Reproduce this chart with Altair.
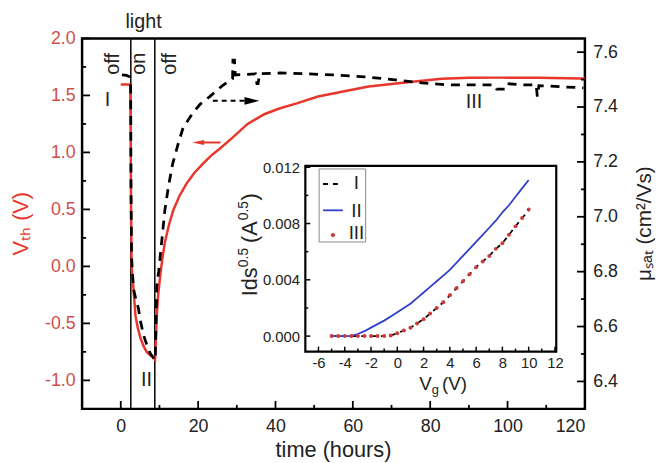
import altair as alt
import pandas as pd

# ---------------- data ----------------
# main panel: threshold voltage (left axis)
time_vth = [0, 2.1, 2.45, 2.55, 2.65, 2.8, 3.3, 3.8, 4.4, 5.1, 5.9, 6.7, 7.6, 8.5, 8.85,
            9.0, 9.3, 9.7, 10.2, 10.8, 11.4, 12.5, 13.6, 15.2, 17.0, 19.0, 21.2, 23.3,
            25.5, 28.9, 32.8, 37.1, 41.0, 45.5, 51.0, 57.5, 64.1, 70.0, 75.4, 83.0,
            90.0, 98.4, 108.0, 118.8, 120.0]
vth = [1.595, 1.595, 1.59, 1.2, 0.58, 0.0, -0.2, -0.43, -0.54, -0.63, -0.70, -0.75, -0.78,
       -0.80, -0.82, -0.72, -0.43, -0.24, -0.08, 0.08, 0.21, 0.37, 0.495, 0.62, 0.726,
       0.82, 0.90, 0.97, 1.03, 1.13, 1.25, 1.335, 1.385, 1.43, 1.49, 1.535, 1.578, 1.60,
       1.62, 1.647, 1.655, 1.656, 1.655, 1.648, 1.648]
# main panel: saturation mobility (right axis)
time_mu = [0.3, 1.5, 2.3, 2.55, 2.65, 2.8, 3.3, 3.9, 4.6, 5.1, 5.9, 6.7, 7.6, 8.5, 8.9,
           9.1, 9.3, 9.8, 10.2, 10.8, 11.4, 12.3, 13.4, 14.8, 16.1, 18.7, 20.5, 23.0,
           26.3, 28.9, 29.0, 29.4, 29.6, 34.8, 35.2, 35.5, 35.9, 41.2, 48.0, 54.9, 63.0,
           71.0, 77.9, 83.8, 89.7, 96.6, 97.2, 99.5, 100.0, 103.5, 107.4, 107.7, 108.1,
           113.6, 119.6]
mu = [7.517, 7.515, 7.51, 7.49, 7.1, 6.85, 6.736, 6.70, 6.664, 6.62, 6.568, 6.535, 6.502,
      6.485, 6.477, 6.6, 6.748, 6.80, 6.856, 6.94, 7.024, 7.108, 7.192, 7.264, 7.324,
      7.38, 7.41, 7.438, 7.478, 7.503, 7.571, 7.571, 7.517, 7.521, 7.485, 7.485, 7.521,
      7.524, 7.521, 7.517, 7.51, 7.499, 7.488, 7.481, 7.481, 7.481, 7.465, 7.465, 7.485,
      7.481, 7.481, 7.438, 7.478, 7.474, 7.47]
light_switch = [2.6, 8.8]

# inset: transfer curves
vg = [-5.0, -4.5, -4.0, -3.5, -3.0, -2.5, -2.0, -1.5, -1.0, -0.5, 0.0, 0.5, 1.0, 1.5,
      2.0, 2.5, 3.0, 3.5, 4.0, 4.5, 5.0, 5.5, 6.0, 6.5, 7.0, 7.5, 8.0, 8.5, 9.0, 9.5, 10.0]
ids_I = [0.0, 0.0, 0.0, 0.0, 0.0, 0.0, 0.0, 0.0, 0.00001, 0.00005, 0.0002, 0.0004,
         0.0006, 0.0009, 0.0012, 0.0016, 0.0020, 0.0024, 0.0029, 0.0034, 0.0039, 0.0044,
         0.0049, 0.0053, 0.0057, 0.0062, 0.0066, 0.0072, 0.0078, 0.0084, 0.0089]
ids_II = [0.0, 0.0, 0.0, 0.00002, 0.00015, 0.00035, 0.0006, 0.00085, 0.0011, 0.0014,
          0.0017, 0.0020, 0.0023, 0.0027, 0.0031, 0.0035, 0.0039, 0.0043, 0.0047, 0.0052,
          0.0057, 0.0062, 0.0067, 0.0072, 0.0077, 0.0082, 0.0088, 0.0093, 0.0099, 0.0105,
          0.0111]
ids_III = [0.0, 0.0, 0.0, 0.0, 0.0, 0.0, 0.0, 0.0, 0.0, 0.00004, 0.0002, 0.0004, 0.0006,
           0.0009, 0.0012, 0.0016, 0.0020, 0.0024, 0.0029, 0.0034, 0.0039, 0.0044, 0.0049,
           0.0053, 0.0057, 0.0062, 0.0066, 0.0072, 0.0078, 0.0084, 0.0090]

# tick values
vth_major = [-1.0, -0.5, 0.0, 0.5, 1.0, 1.5, 2.0]
vth_minor = [-0.75, -0.25, 0.25, 0.75, 1.25, 1.75]
mu_major = [6.4, 6.6, 6.8, 7.0, 7.2, 7.4, 7.6]
mu_minor = [6.5, 6.7, 6.9, 7.1, 7.3, 7.5]
time_major = [0, 20, 40, 60, 80, 100, 120]
time_minor = [10, 30, 50, 70, 90, 110]
vg_major = [-6, -4, -2, 0, 2, 4, 6, 8, 10, 12]
vg_minor = [-5, -3, -1, 1, 3, 5, 7, 9, 11]
ids_major = [0.0, 0.004, 0.008, 0.012]
ids_minor = [0.002, 0.006, 0.010]

# annotations: (x, y, label)
main_plain_text = [(5.9, 2.089, "light"), (-3.42, 1.405, "I"), (6.67, -1.047, "II"),
                   (91.3, 1.387, "III")]
main_rot_text = [(-1.89, 1.682, "off"), (4.62, 1.682, "on"), (12.67, 1.682, "off")]
legend_labels = [(-3.11, 0.01048, "I"), (-3.11, 0.00844, "II"), (-3.11, 0.0069, "III")]
vg_title_anchor = [(1.68, -0.00384)]
ids_title_anchor = [(-10.68, 0.00283)]

# ---------------- style ----------------
FONT = "Liberation Sans"
RED = "#e8362d"
RED_LBL = "#cf4f4b"
BLUE = "#2f3fc8"
DOT = "#cc3b3b"
INK = "#222222"

W, H = 509, 375
X_MAIN = alt.Scale(domain=[-10, 120], nice=False, zero=False)
Y_VTH = alt.Scale(domain=[-1.25, 2.0], nice=False, zero=False)
Y_MU = alt.Scale(domain=[6.3, 7.65], nice=False, zero=False)
X_IN = alt.Scale(domain=[-7, 12.1], range=[226, 480], nice=False, zero=False)
Y_IN = alt.Scale(domain=[-0.0011, 0.0121], range=[317, 129], nice=False, zero=False)

MINUS = "replace(datum.label, '\u2212', '-')"

# ---- axes (the same object is given to every layer that shares a scale) ----
AX_TIME = alt.Axis(orient="bottom", values=time_major, format="d", labelFontSize=18,
                   labelPadding=9, labelColor=INK, title="time (hours)", titleFontSize=22,
                   titleFontWeight="normal", titleColor=INK, titleX=254, titleY=48,
                   titleBaseline="alphabetic", titleAlign="center")
AX_VTH = alt.Axis(orient="left", values=vth_major, format=".1f", labelExpr=MINUS,
                  labelFontSize=18, labelPadding=7, labelColor=RED_LBL,
                  title="V\u209c\u2095 (V)", titleColor=RED, titleFontSize=22,
                  titleFontWeight="normal", titleAngle=270, titleX=-62, titleY=187,
                  titleAlign="center", titleBaseline="middle")
AX_MU = alt.Axis(orient="right", values=mu_major, format=".1f", labelFontSize=18,
                 labelPadding=8, labelColor=INK,
                 title="\u03bc\u209b\u2090\u209c (cm\u00b2/Vs)",
                 titleFontSize=21, titleFontWeight="normal", titleColor=INK,
                 titleAngle=270, titleX=60, titleY=187, titleAlign="center",
                 titleBaseline="middle")
AX_VG = alt.Axis(orient="bottom", offset=-58, values=vg_major, format="d",
                 labelExpr=MINUS, labelFontSize=15, labelPadding=4, labelColor=INK,
                 title="")
AX_IDS = alt.Axis(orient="left", offset=-226, values=ids_major, format=".3f",
                  labelFontSize=15, labelPadding=6, labelColor=INK, title="")

MAIN_V = dict(xs=X_MAIN, xa=AX_TIME, ys=Y_VTH, ya=AX_VTH)
MAIN_M = dict(xs=X_MAIN, xa=None, ys=Y_MU, ya=AX_MU)
INSET = dict(xs=X_IN, xa=AX_VG, ys=Y_IN, ya=AX_IDS)


def yticks(values, g, xedge, length, width=1.8):
    df = pd.DataFrame({"val": values})
    return alt.Chart(df).mark_rule(color="black", strokeWidth=width, x2Offset=length).encode(
        y=alt.Y("val:Q", scale=g["ys"], axis=g["ya"]),
        x=alt.X(datum=xedge, scale=g["xs"], axis=g["xa"]),
        x2=alt.X2(datum=xedge),
    )


def xticks(values, g, yedge, length, width=1.8):
    df = pd.DataFrame({"val": values})
    return alt.Chart(df).mark_rule(color="black", strokeWidth=width, y2Offset=-length).encode(
        x=alt.X("val:Q", scale=g["xs"], axis=g["xa"]),
        y=alt.Y(datum=yedge, scale=g["ys"], axis=g["ya"]),
        y2=alt.Y2(datum=yedge),
    )


def texts(rows, g, **mk):
    df = pd.DataFrame(rows, columns=["x", "y", "label"])
    return alt.Chart(df).mark_text(font=FONT, **mk).encode(
        x=alt.X("x:Q", scale=g["xs"], axis=g["xa"]),
        y=alt.Y("y:Q", scale=g["ys"], axis=g["ya"]),
        text="label:N",
    )


def point(x, y, g, mark):
    df = pd.DataFrame({"x": [x], "y": [y]})
    base = alt.Chart(df)
    m = base.mark_point(**mark) if mark.get("shape") else base.mark_circle(**mark)
    return m.encode(
        x=alt.X("x:Q", scale=g["xs"], axis=g["xa"]),
        y=alt.Y("y:Q", scale=g["ys"], axis=g["ya"]),
    )


def hrule(x1, x2, y, g, **mk):
    df = pd.DataFrame({"x": [x1], "x2": [x2], "y": [y]})
    return alt.Chart(df).mark_rule(**mk).encode(
        x=alt.X("x:Q", scale=g["xs"], axis=g["xa"]), x2="x2:Q",
        y=alt.Y("y:Q", scale=g["ys"], axis=g["ya"]),
    )


def box(x1, x2, y1, y2, g, **mk):
    df = pd.DataFrame({"x": [x1], "x2": [x2], "y": [y1], "y2": [y2]})
    return alt.Chart(df).mark_rect(**mk).encode(
        x=alt.X("x:Q", scale=g["xs"], axis=g["xa"]), x2="x2:Q",
        y=alt.Y("y:Q", scale=g["ys"], axis=g["ya"]), y2="y2:Q",
    )


def part(anchor, g, label, size, dx, dy, angle=0):
    df = pd.DataFrame(anchor, columns=["x", "y"])
    return alt.Chart(df).mark_text(font=FONT, fontSize=size, align="left",
                                   baseline="alphabetic", color=INK, dx=dx, dy=dy,
                                   angle=angle, text=label).encode(
        x=alt.X("x:Q", scale=g["xs"], axis=g["xa"]),
        y=alt.Y("y:Q", scale=g["ys"], axis=g["ya"]),
    )


# ---------------- main panel: Vth ----------------
df_vth = pd.DataFrame({"t": time_vth, "v": vth})
vth_line = alt.Chart(df_vth).mark_line(color=RED, strokeWidth=2.5).encode(
    x=alt.X("t:Q", scale=X_MAIN, axis=AX_TIME),
    y=alt.Y("v:Q", scale=Y_VTH, axis=AX_VTH),
)
light_rules = alt.Chart(pd.DataFrame({"t": light_switch})).mark_rule(
    color="black", strokeWidth=1.5).encode(x=alt.X("t:Q", scale=X_MAIN, axis=AX_TIME))

vth_group = alt.layer(
    light_rules,
    vth_line,
    yticks(vth_major, MAIN_V, -10, 8),
    yticks(vth_minor, MAIN_V, -10, 4),
    xticks(time_major, MAIN_V, -1.25, 8),
    xticks(time_minor, MAIN_V, -1.25, 4),
    texts(main_plain_text, MAIN_V, fontSize=20, align="center", baseline="alphabetic",
          color=INK),
    texts(main_rot_text, MAIN_V, fontSize=20, align="left", baseline="middle",
          angle=270, color=INK),
    hrule(21.0, 25.8, 1.087, MAIN_V, color=RED, strokeWidth=2),
    point(20.0, 1.087, MAIN_V, dict(shape="M1,-0.42L-1,0L1,0.42Z", filled=True, size=144,
                                    color=RED, opacity=1, strokeWidth=0)),
)

# ---------------- main panel: mobility ----------------
df_mu = pd.DataFrame({"t": time_mu, "m": mu})
mu_line = alt.Chart(df_mu).mark_line(color="black", strokeWidth=2.8, strokeDash=[9, 7]).encode(
    x=alt.X("t:Q", scale=X_MAIN, axis=None),
    y=alt.Y("m:Q", scale=Y_MU, axis=AX_MU),
)
mu_group = alt.layer(
    mu_line,
    yticks(mu_major, MAIN_M, 120, -8),
    yticks(mu_minor, MAIN_M, 120, -4),
    hrule(23.8, 32.2, 7.4225, MAIN_M, color="black", strokeWidth=2, strokeDash=[5, 4]),
    point(33.9, 7.4225, MAIN_M, dict(shape="M-1,-0.53L1,0L-1,0.53Z", filled=True, size=225,
                                     color="black", opacity=1, strokeWidth=0)),
)

# ---------------- inset ----------------
df_in = pd.DataFrame({"vg": vg, "I": ids_I, "II": ids_II, "III": ids_III})
line_I = alt.Chart(df_in).mark_line(color="black", strokeWidth=1.8, strokeDash=[5, 5]).encode(
    x=alt.X("vg:Q", scale=X_IN, axis=AX_VG), y=alt.Y("I:Q", scale=Y_IN, axis=AX_IDS))
line_II = alt.Chart(df_in).mark_line(color=BLUE, strokeWidth=1.8).encode(
    x=alt.X("vg:Q", scale=X_IN, axis=AX_VG), y=alt.Y("II:Q", scale=Y_IN, axis=AX_IDS))
dots_III = alt.Chart(df_in).mark_circle(color=DOT, size=16, opacity=1).encode(
    x=alt.X("vg:Q", scale=X_IN, axis=AX_VG), y=alt.Y("III:Q", scale=Y_IN, axis=AX_IDS))

inset_group = alt.layer(
    box(-7, 12.1, -0.0011, 0.0121, INSET, fill="white", stroke="black", strokeWidth=2.2),
    xticks(vg_major, INSET, -0.0011, 5, 1.5),
    xticks(vg_minor, INSET, -0.0011, 3, 1.5),
    yticks(ids_major, INSET, -7, 5, 1.5),
    yticks(ids_minor, INSET, -7, 3, 1.5),
    line_I,
    line_II,
    dots_III,
    box(-5.95, -2.41, 0.00669, 0.01188, INSET, fill="white", stroke="#888888",
        strokeWidth=1),
    hrule(-5.65, -4.15, 0.01081, INSET, color="black", strokeWidth=1.8, strokeDash=[5, 5]),
    hrule(-5.65, -4.15, 0.00894, INSET, color=BLUE, strokeWidth=1.8),
    point(-4.9, 0.00718, INSET, dict(color=DOT, size=18, opacity=1)),
    texts(legend_labels, INSET, fontSize=19, align="center", baseline="alphabetic",
          color=INK),
    # x title "Vg (V)"
    part(vg_title_anchor, INSET, "V", 19, 0, 0),
    part(vg_title_anchor, INSET, "g", 13, 12.5, 4),
    part(vg_title_anchor, INSET, "(V)", 19, 23, 0),
    # y title "Ids^0.5 (A^0.5)", rotated
    part(ids_title_anchor, INSET, "Ids", 22, 0, 0, 270),
    part(ids_title_anchor, INSET, "0.5", 14, 29.5, -9, 270),
    part(ids_title_anchor, INSET, "(A", 22, 54, 0, 270),
    part(ids_title_anchor, INSET, "0.5", 14, 77, -9, 270),
    part(ids_title_anchor, INSET, ")", 22, 97, 0, 270),
)

chart = alt.layer(vth_group, mu_group, inset_group).resolve_scale(
    x="independent", y="independent"
).properties(
    width=W, height=H,
    autosize=alt.AutoSizeParams(type="none"),
    padding={"left": 75, "top": 28, "right": 74, "bottom": 52},
).configure_view(
    stroke="black", strokeWidth=2.5
).configure_axis(
    grid=False, domain=False, ticks=False, tickSize=0, labelFont=FONT, titleFont=FONT
)

chart.save("out.html", embed_options={"renderer": "svg", "actions": False})
